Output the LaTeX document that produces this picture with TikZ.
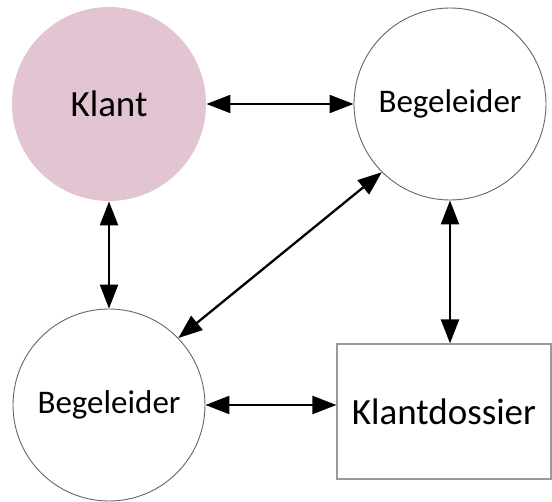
\documentclass[tikz,border=0pt]{standalone}
\usepackage{fontspec}
\setmainfont{Carlito}
\usetikzlibrary{arrows.meta}
\usetikzlibrary{positioning}
\definecolor{klantroze}{RGB}{226,196,210}
\tikzset{>={Triangle[length=24pt,width=18pt]}}
\tikzset{
    actor/.style = {circle, draw=black!60, line width=0.9pt, minimum size=192pt, inner sep=0pt, font=\fontsize{33}{40}\selectfont},
    client/.style = {actor, fill=klantroze, draw=none, minimum size=194pt, font=\fontsize{37}{44}\selectfont},
    record/.style = {rectangle, draw=black!40, line width=1.2pt, minimum width=214pt, minimum height=135pt, inner sep=0pt, font=\fontsize{37}{44}\selectfont},
    link/.style = {<->, line width=2.3pt},
}

\begin{document}
\begin{tikzpicture}[x=1pt,y=-1pt,on grid]
    \useasboundingbox (0,0) rectangle (552,502);
    \node(klant)[client] at (109,104) {Klant};
    \node(beg1)[actor, right=341pt of klant] {Begeleider};
    \node(beg2)[actor, below=301pt of klant] {Begeleider};
    \node(dossier)[record] at (444,411.5) {Klantdossier};
    \draw[link] (klant) -- (beg1);
    \draw[link] (klant) -- (beg2);
    \draw[link] (beg2.44) -- (beg1.225);
    \draw[link] (beg1.south) -- (dossier.north -| beg1.south);
    \draw[link] (beg2.east) -- (beg2.east -| dossier.west);
\end{tikzpicture}
\end{document}
